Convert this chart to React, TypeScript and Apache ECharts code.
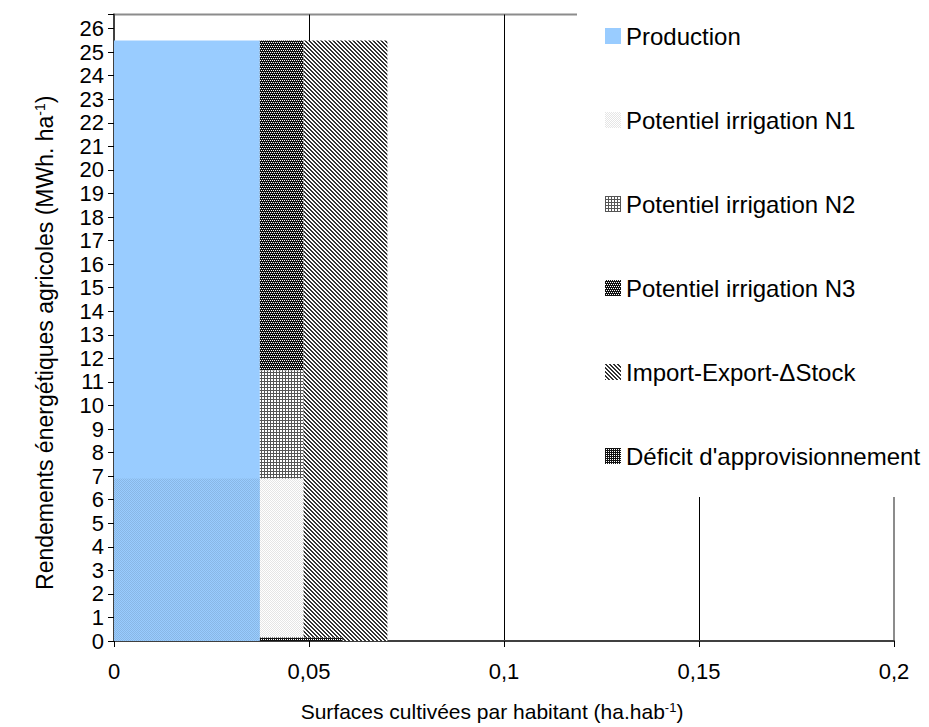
import React, { useEffect, useRef } from "react";
import * as echarts from "echarts";

// ---- Data ----
const seriesNames = [
  "Production",
  "Potentiel irrigation N1",
  "Potentiel irrigation N2",
  "Potentiel irrigation N3",
  "Import-Export-ΔStock",
  "Déficit d'approvisionnement",
];
// each series is one rectangle: surface (x) from xStart to xEnd, yield (y) from yLow to yHigh
const xStart = [0, 0, 0.0374, 0.0374, 0.0486, 0.0374];
const xEnd = [0.0374, 0.0486, 0.0486, 0.0486, 0.0701, 0.0586];
const yLow = [0, 0, 6.9, 11.5, 0, 0];
const yHigh = [25.5, 6.9, 11.5, 25.5, 25.5, 0.15];

const xMin = 0;
const xMax = 0.2;
const xInterval = 0.05;
const yMin = 0;
const yMax = 26.6;
const yInterval = 1;

const xTitle = "Surfaces cultivées par habitant (ha.hab{sup|-1})";
const yTitle = "Rendements énergétiques agricoles (MWh. ha{sup|-1})";

const FONT = "'Liberation Sans', Arial, sans-serif";

function makePattern(w: number, h: number, draw: (ctx: CanvasRenderingContext2D) => void) {
  const c = document.createElement("canvas");
  c.width = w;
  c.height = h;
  const ctx = c.getContext("2d")!;
  draw(ctx);
  return { image: c, repeat: "repeat", imageWidth: w, imageHeight: h } as any;
}

function buildFills(): any[] {
  // N1: light dotted checker, transparent background
  const n1 = makePattern(2, 2, (ctx) => {
    ctx.fillStyle = "rgba(0,0,0,0.10)";
    ctx.fillRect(0, 0, 1, 1);
    ctx.fillRect(1, 1, 1, 1);
  });
  // N2: small grid
  const n2 = makePattern(3, 3, (ctx) => {
    ctx.fillStyle = "#ffffff";
    ctx.fillRect(0, 0, 3, 3);
    ctx.fillStyle = "#555555";
    ctx.fillRect(0, 0, 3, 1);
    ctx.fillRect(0, 0, 1, 3);
  });
  // N3: dark with staggered white dots
  const n3 = makePattern(4, 4, (ctx) => {
    ctx.fillStyle = "#111111";
    ctx.fillRect(0, 0, 4, 4);
    ctx.fillStyle = "#ffffff";
    ctx.fillRect(0, 0, 1, 1);
    ctx.fillRect(2, 0, 1, 1);
    ctx.fillRect(1, 2, 1, 1);
    ctx.fillRect(3, 2, 1, 1);
  });
  // Import-Export: downward diagonal hatch
  const imp = makePattern(4, 4, (ctx) => {
    ctx.fillStyle = "#ffffff";
    ctx.fillRect(0, 0, 4, 4);
    ctx.fillStyle = "#333333";
    for (let y = 0; y < 4; y++) {
      for (let x = 0; x < 4; x++) {
        const d = (((x - y) % 4) + 4) % 4;
        if (d === 0 || d === 1) ctx.fillRect(x, y, 1, 1);
      }
    }
  });
  // Déficit: nearly black
  const def = makePattern(2, 2, (ctx) => {
    ctx.fillStyle = "#111111";
    ctx.fillRect(0, 0, 2, 2);
    ctx.fillStyle = "#ffffff";
    ctx.fillRect(1, 1, 1, 1);
  });
  return ["#99CCFF", n1, n2, n3, imp, def];
}

function fmtX(v: number) {
  return String(Number(v.toFixed(3))).replace(".", ",");
}

export default function App() {
  const ref = useRef<HTMLDivElement>(null);

  useEffect(() => {
    if (!ref.current) return;
    const chart = echarts.init(ref.current, null, { renderer: "svg" });
    const fills = buildFills();

    const renderItem = (params: any, api: any) => {
      const x0 = api.value(0);
      const x1 = api.value(1);
      const y0 = api.value(2);
      const y1 = api.value(3);
      const p0 = api.coord([x0, y1]);
      const p1 = api.coord([x1, y0]);
      return {
        type: "rect",
        shape: { x: p0[0], y: p0[1], width: p1[0] - p0[0], height: p1[1] - p0[1] },
        style: { fill: fills[params.seriesIndex], stroke: "none" },
      };
    };

    const option: any = {
      animation: false,
      backgroundColor: "#ffffff",
      textStyle: { fontFamily: FONT, color: "#000" },
      grid: {
        left: 114,
        right: 35,
        top: 14.5,
        bottom: 85,
        show: true,
        borderColor: "#8c8c8c",
        borderWidth: 2,
        backgroundColor: "transparent",
      },
      legend: {
        orient: "vertical",
        left: 577,
        top: 0,
        padding: [24, 10, 29, 28],
        backgroundColor: "#ffffff",
        itemWidth: 16,
        itemHeight: 16,
        itemGap: 60,
        icon: "rect",
        selectedMode: false,
        textStyle: { fontSize: 24, color: "#000", lineHeight: 24, fontFamily: FONT },
        data: seriesNames.map((n, i) => ({ name: n, itemStyle: { color: fills[i] } })),
      },
      xAxis: {
        type: "value",
        min: xMin,
        max: xMax,
        interval: xInterval,
        name: xTitle,
        nameLocation: "middle",
        nameGap: 60,
        nameTextStyle: {
          fontSize: 21,
          color: "#000",
          fontFamily: FONT,
          padding: [0, 24, 0, 0],
          rich: { sup: { fontSize: 13, verticalAlign: "top", fontFamily: FONT, color: "#000" } },
        },
        axisLine: { show: true, onZero: false, lineStyle: { color: "#404040", width: 2 } },
        axisTick: { show: true, length: 6, lineStyle: { color: "#000", width: 1 } },
        axisLabel: { fontSize: 22, color: "#000", margin: 19, fontFamily: FONT, formatter: fmtX },
        splitLine: {
          show: true,
          showMinLine: false,
          showMaxLine: false,
          lineStyle: { color: "#000", width: 1 },
        },
      },
      yAxis: {
        type: "value",
        min: yMin,
        max: yMax,
        interval: yInterval,
        name: yTitle,
        nameLocation: "middle",
        nameGap: 58,
        nameTextStyle: {
          fontSize: 23,
          color: "#000",
          fontFamily: FONT,
          padding: [0, 30, 0, 0],
          rich: { sup: { fontSize: 14, verticalAlign: "top", fontFamily: FONT, color: "#000" } },
        },
        axisLine: { show: true, onZero: false, lineStyle: { color: "#404040", width: 2 } },
        axisTick: { show: true, length: 6, lineStyle: { color: "#000", width: 1 } },
        axisLabel: {
          fontSize: 22,
          color: "#000",
          margin: 10,
          fontFamily: FONT,
          formatter: (v: number) => (Number.isInteger(v) ? String(v) : ""),
        },
        splitLine: { show: false },
      },
      series: seriesNames.map((n, i) => ({
        type: "custom",
        name: n,
        renderItem,
        itemStyle: { color: fills[i] },
        encode: { x: [0, 1], y: [2, 3] },
        data: [[xStart[i], xEnd[i], yLow[i], yHigh[i]]],
      })),
    };

    chart.setOption(option);
    return () => chart.dispose();
  }, []);

  return (
    <div
      ref={ref}
      style={{ position: "fixed", left: 0, top: 0, width: 929, height: 727 }}
    />
  );
}
